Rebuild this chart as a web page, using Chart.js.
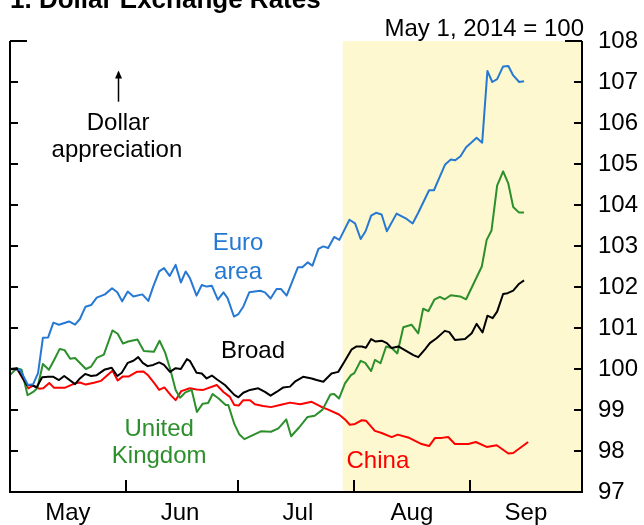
<!DOCTYPE html>
<html>
<head>
<meta charset="utf-8">
<title>Dollar Exchange Rates</title>
<script src="https://cdn.jsdelivr.net/npm/chart.js@4"></script>
<style>
    html, body { margin: 0; padding: 0; background: #fff; }
    #wrap { width: 644px; height: 525px; position: relative; }
</style>
</head>
<body>
<div id="wrap"><canvas id="fxChart"></canvas></div>
<script>
// Days counted from May 1, 2014 (day 0); index values, May 1, 2014 = 100
const euroDays = [0, 2.7, 4.8, 6.2, 7.5, 8.8, 10.2, 11.6, 13.1, 15.8, 17.4, 18.7, 20.2, 21.7, 23.2, 25.4, 27.3, 28.7, 30.0, 31.5, 33.0, 35.4, 37.0, 38.3, 39.9, 41.2, 42.7, 44.3, 45.7, 47.0, 48.1, 49.9, 51.3, 52.6, 54.0, 55.6, 57.1, 58.2, 59.9, 61.1, 62.4, 64.0, 66.9, 68.2, 69.7, 71.3, 72.5, 74.0, 77.0, 78.2, 79.6, 80.9, 82.5, 83.8, 85.1, 86.7, 88.1, 90.8, 92.3, 93.8, 95.1, 96.6, 97.9, 99.4, 100.8, 103.4, 106.1, 107.7, 109.2, 112.1, 113.4, 115.0, 116.4, 117.9, 119.1, 120.5, 122.0, 123.5, 124.8, 126.3, 127.7, 129.0, 130.3, 131.9, 133.3, 134.6, 136.2, 137.5];
const euroValues = [100.00, 99.98, 99.61, 99.63, 99.90, 100.76, 100.77, 101.13, 101.08, 101.16, 101.08, 101.22, 101.52, 101.56, 101.74, 101.82, 101.97, 101.87, 101.65, 101.89, 101.77, 101.82, 101.66, 102.01, 102.38, 102.46, 102.27, 102.54, 102.11, 102.38, 102.22, 101.79, 102.05, 102.01, 102.03, 101.69, 101.87, 101.73, 101.28, 101.34, 101.52, 101.87, 101.91, 101.87, 101.72, 101.95, 101.95, 101.79, 102.48, 102.48, 102.60, 102.52, 102.93, 102.99, 102.95, 103.22, 103.15, 103.64, 103.55, 103.17, 103.36, 103.74, 103.81, 103.77, 103.36, 103.79, 103.66, 103.55, 103.81, 104.36, 104.36, 104.70, 104.99, 105.11, 105.09, 105.19, 105.41, 105.53, 105.64, 105.52, 107.27, 107.00, 107.07, 107.38, 107.39, 107.16, 107.00, 107.02];

const broadDays = [0, 1.8, 3.1, 4.5, 5.8, 7.1, 8.6, 10.2, 11.6, 13.1, 14.5, 17.4, 18.7, 20.1, 21.7, 23.2, 25.4, 27.2, 28.7, 29.9, 31.5, 33.0, 34.3, 35.5, 36.8, 38.3, 39.9, 41.2, 42.8, 44.3, 45.7, 47.3, 48.1, 49.9, 51.3, 52.6, 54.0, 55.3, 57.5, 60.0, 61.1, 62.4, 64.2, 66.4, 68.2, 69.7, 71.3, 73.1, 74.9, 76.2, 78.4, 80.7, 82.0, 83.8, 86.0, 87.8, 89.6, 91.4, 92.7, 94.1, 95.2, 96.6, 97.8, 99.4, 100.8, 102.1, 103.9, 105.6, 107.9, 109.2, 111.0, 112.3, 114.1, 116.3, 117.5, 119.0, 121.7, 123.5, 124.8, 126.4, 127.7, 129.1, 130.3, 131.9, 133.1, 134.6, 136.2, 137.5];
const broadValues = [100.00, 100.02, 99.83, 99.61, 99.61, 99.55, 99.80, 99.81, 99.81, 99.73, 99.83, 99.63, 99.77, 99.88, 99.83, 99.85, 99.99, 100.03, 99.83, 99.91, 100.15, 100.20, 100.29, 100.15, 100.07, 100.10, 100.16, 100.10, 99.93, 100.02, 100.00, 100.24, 100.20, 99.91, 99.89, 99.77, 99.84, 99.75, 99.61, 99.37, 99.31, 99.42, 99.49, 99.53, 99.44, 99.35, 99.44, 99.55, 99.57, 99.69, 99.81, 99.77, 99.73, 99.69, 99.89, 99.93, 100.20, 100.48, 100.55, 100.55, 100.52, 100.73, 100.67, 100.69, 100.63, 100.51, 100.55, 100.46, 100.34, 100.29, 100.48, 100.63, 100.75, 100.93, 100.90, 100.71, 100.73, 100.87, 101.10, 100.89, 101.30, 101.24, 101.40, 101.83, 101.85, 101.91, 102.08, 102.16];

const ukDays = [0, 1.8, 3.1, 4.7, 6.2, 7.3, 8.8, 10.4, 11.8, 13.3, 14.6, 16.1, 17.4, 20.3, 21.7, 23.2, 25.1, 27.4, 28.8, 30.2, 31.6, 34.1, 35.8, 38.5, 40.0, 41.5, 42.9, 44.3, 45.5, 46.9, 48.6, 50.0, 51.5, 53.0, 54.2, 55.8, 57.7, 58.4, 60.0, 61.3, 62.7, 67.1, 69.8, 71.8, 73.9, 75.2, 77.2, 79.6, 81.5, 83.6, 85.7, 86.7, 88.0, 89.6, 91.2, 92.1, 93.8, 95.0, 96.6, 97.6, 99.1, 100.6, 102.1, 103.6, 105.2, 107.4, 109.2, 110.5, 111.9, 113.5, 115.0, 116.3, 117.9, 120.4, 122.0, 126.2, 127.5, 128.8, 130.3, 131.9, 133.3, 134.6, 136.1, 137.5];
const ukValues = [99.85, 100.02, 99.98, 99.36, 99.44, 99.53, 100.12, 99.98, 100.22, 100.49, 100.46, 100.25, 100.27, 100.00, 100.06, 100.27, 100.35, 100.94, 100.86, 100.62, 100.67, 100.72, 100.44, 100.42, 100.69, 100.40, 99.98, 99.49, 99.30, 99.43, 99.49, 98.95, 99.15, 99.17, 99.39, 99.28, 99.12, 99.12, 98.66, 98.41, 98.29, 98.48, 98.47, 98.55, 98.77, 98.36, 98.56, 98.83, 98.86, 99.01, 99.38, 99.39, 99.28, 99.65, 99.85, 99.90, 100.20, 100.15, 99.95, 100.22, 100.14, 100.55, 100.51, 100.38, 101.02, 101.08, 100.87, 101.47, 101.41, 101.69, 101.76, 101.70, 101.80, 101.77, 101.70, 102.50, 103.15, 103.38, 104.47, 104.82, 104.52, 103.95, 103.82, 103.82];

const chinaDays = [0, 2.1, 4.9, 6.2, 7.8, 8.9, 10.5, 11.8, 14.6, 17.4, 18.7, 20.3, 22.7, 24.3, 27.4, 28.8, 30.2, 31.8, 33.9, 35.7, 37.0, 38.8, 39.9, 41.3, 43.1, 44.3, 45.8, 48.1, 49.9, 51.7, 55.3, 57.1, 58.8, 60.0, 61.2, 62.4, 64.2, 65.5, 67.7, 69.8, 72.5, 74.9, 77.6, 80.7, 83.2, 85.1, 88.0, 89.6, 90.9, 92.3, 94.1, 95.2, 97.6, 99.4, 102.1, 103.7, 106.5, 110.1, 112.1, 113.7, 115.5, 117.2, 119.0, 122.6, 124.6, 127.5, 130.2, 133.3, 134.6, 138.6];
const chinaValues = [100.00, 99.98, 99.53, 99.60, 99.52, 99.53, 99.66, 99.54, 99.54, 99.65, 99.67, 99.62, 99.67, 99.71, 99.96, 99.72, 99.82, 99.82, 99.93, 99.94, 99.84, 99.63, 99.49, 99.55, 99.35, 99.24, 99.46, 99.53, 99.50, 99.49, 99.61, 99.44, 99.32, 99.12, 99.11, 99.24, 99.24, 99.14, 99.10, 99.07, 99.13, 99.18, 99.14, 99.20, 99.08, 99.01, 98.89, 98.77, 98.64, 98.66, 98.75, 98.74, 98.49, 98.44, 98.34, 98.40, 98.33, 98.17, 98.12, 98.32, 98.32, 98.34, 98.17, 98.17, 98.22, 98.10, 98.14, 97.94, 97.95, 98.22];

// Month axis: labels sit mid-month, tick marks at month starts
const monthLabels = ['May', 'Jun', 'Jul', 'Aug', 'Sep'];
const monthMids = [15.5, 45.5, 77.0, 107.5, 138.0];
const monthStarts = [31, 61, 92, 123];
const shadeStart = 89;   // shaded period, end of July onward

const FONT = '"Liberation Sans", Arial, Helvetica, sans-serif';

const toPoints = (days, values) => days.map((d, i) => ({ x: d, y: values[i] }));

const series = [
    { label: 'Euro area', days: euroDays, values: euroValues, color: '#2679d2' },
    { label: 'Broad', days: broadDays, values: broadValues, color: '#000000' },
    { label: 'United Kingdom', days: ukDays, values: ukValues, color: '#2b8f2b' },
    { label: 'China', days: chinaDays, values: chinaValues, color: '#ff0000' }
];

// Shaded period behind the lines
const shadePlugin = {
    id: 'shade',
    beforeDatasetsDraw(chart) {
        const { ctx, chartArea, scales } = chart;
        const x0 = scales.x.getPixelForValue(shadeStart);
        ctx.save();
        ctx.fillStyle = '#fdf8cf';
        ctx.fillRect(x0, chartArea.top, chartArea.right - x0, chartArea.bottom - chartArea.top);
        ctx.restore();
    }
};

// Frame, inward ticks and the text labels
const framePlugin = {
    id: 'frame',
    afterDraw(chart) {
        const { ctx, chartArea, scales } = chart;
        const { left, right, top, bottom } = chartArea;
        ctx.save();
        ctx.strokeStyle = '#000';
        ctx.lineWidth = 2;
        ctx.beginPath();
        ctx.moveTo(left, top);
        ctx.lineTo(left, bottom);
        ctx.lineTo(right, bottom);
        ctx.lineTo(right, top);
        for (let v = 97; v <= 108; v++) {
            const y = Math.round(scales.y.getPixelForValue(v));
            const len = v === 108 ? 17 : 8;
            ctx.moveTo(left, y);
            ctx.lineTo(left + len, y);
            ctx.moveTo(right - len, y);
            ctx.lineTo(right, y);
        }
        monthStarts.forEach(d => {
            const x = Math.round(scales.x.getPixelForValue(d));
            ctx.moveTo(x, bottom);
            ctx.lineTo(x, bottom - 12);
        });
        ctx.stroke();

        const px = d => scales.x.getPixelForValue(d);
        const py = v => scales.y.getPixelForValue(v);

        // series names next to their lines
        ctx.font = '24px ' + FONT;
        ctx.textAlign = 'center';
        ctx.textBaseline = 'middle';
        const notes = [
            ['Euro', 61.0, 103.06, series[0].color],
            ['area', 61.0, 102.35, series[0].color],
            ['Broad', 65.0, 100.44, series[1].color],
            ['United', 39.9, 98.53, series[2].color],
            ['Kingdom', 39.9, 97.87, series[2].color],
            ['China', 98.4, 97.75, series[3].color],
            ['Dollar', 28.9, 105.99, '#000'],
            ['appreciation', 28.6, 105.33, '#000']
        ];
        notes.forEach(([text, d, v, color]) => {
            ctx.fillStyle = color;
            ctx.fillText(text, px(d), py(v));
        });

        // arrow above "Dollar appreciation"
        const ax = Math.round(px(28.9)) + 0.5;
        const ay0 = py(106.52);
        const ay1 = py(107.28);
        ctx.lineWidth = 1.5;
        ctx.beginPath();
        ctx.moveTo(ax, ay0);
        ctx.lineTo(ax, ay1 + 2);
        ctx.stroke();
        ctx.fillStyle = '#000';
        ctx.beginPath();
        ctx.moveTo(ax, ay1);
        ctx.lineTo(ax - 3.5, ay1 + 8);
        ctx.lineTo(ax + 3.5, ay1 + 8);
        ctx.closePath();
        ctx.fill();

        // title and index base note
        ctx.fillStyle = '#000';
        ctx.textBaseline = 'alphabetic';
        ctx.textAlign = 'left';
        ctx.font = 'bold 26px ' + FONT;
        ctx.fillText('1. Dollar Exchange Rates', 10, 8);
        ctx.textAlign = 'right';
        ctx.font = '24px ' + FONT;
        ctx.fillText('May 1, 2014 = 100', 584, 36);
        ctx.restore();
    }
};

const ctx = document.getElementById('fxChart').getContext('2d');
new Chart(ctx, {
    type: 'line',
    data: {
        datasets: series.map(s => ({
            label: s.label,
            data: toPoints(s.days, s.values),
            borderColor: s.color,
            backgroundColor: s.color,
            borderWidth: 2,
            pointRadius: 0,
            tension: 0,
            fill: false,
            borderJoinStyle: 'round'
        }))
    },
    options: {
        responsive: true,
        maintainAspectRatio: false,
        animation: false,
        layout: { padding: { left: 10, top: 41, right: 0, bottom: 0 } },
        plugins: {
            legend: { display: false },
            tooltip: { enabled: false }
        },
        scales: {
            x: {
                type: 'linear',
                min: 0,
                max: 153,
                grid: { display: false, drawTicks: false },
                border: { display: false },
                afterFit: scale => { scale.height = 33; },
                afterBuildTicks: scale => {
                    scale.ticks = monthMids.map(v => ({ value: v }));
                },
                ticks: {
                    autoSkip: false,
                    maxRotation: 0,
                    padding: 7,
                    color: '#000',
                    font: { family: FONT, size: 24 },
                    callback: (value, index) => monthLabels[index]
                }
            },
            y: {
                position: 'right',
                min: 97,
                max: 108,
                grid: { display: false, drawTicks: false },
                border: { display: false },
                afterFit: scale => { scale.width = 62; },
                ticks: {
                    stepSize: 1,
                    padding: 16,
                    color: '#000',
                    font: { family: FONT, size: 24 }
                }
            }
        }
    },
    plugins: [shadePlugin, framePlugin]
});
</script>
</body>
</html>
